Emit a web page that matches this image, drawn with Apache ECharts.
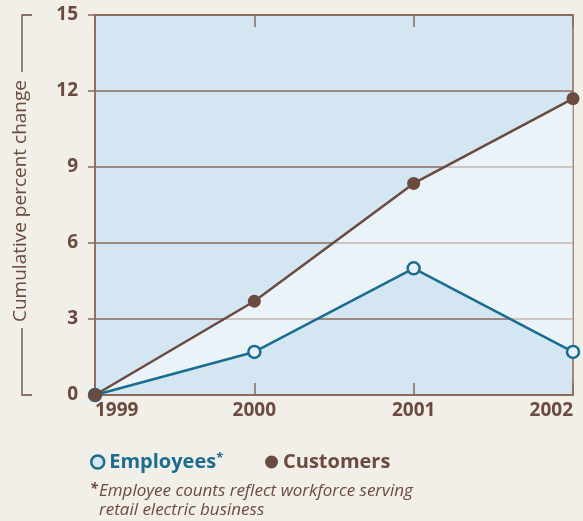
<!DOCTYPE html>
<html>
<head>
<meta charset="utf-8">
<script src="https://cdn.jsdelivr.net/npm/echarts@6/dist/echarts.min.js"></script>
<style>
html,body{margin:0;padding:0;background:#f2eee8;}
#c{width:583px;height:521px;}
</style>
</head>
<body>
<div id="c"></div>
<script>
const years = ['1999', '2000', '2001', '2002'];
const employees = [0, 1.7, 5.0, 1.7];
const customers = [0, 3.7, 8.35, 11.7];
const yTicks = [0, 3, 6, 9, 12, 15];

const brown = '#6b4a3f';
const teal = '#1a6d91';
const FF = '"Open Sans", Roboto, sans-serif';
const gap = customers.map((v, i) => +(v - employees[i]).toFixed(3));

const chart = echarts.init(document.getElementById('c'));
chart.setOption({
  backgroundColor: '#f2eee8',
  animation: false,
  grid: {
    left: 95, right: 10, top: 15, bottom: 126,
    show: true, backgroundColor: '#d4e6f1', borderColor: '#8b6a5b', borderWidth: 1.5
  },
  xAxis: [{
    type: 'category', data: years, boundaryGap: false, position: 'bottom',
    axisLine: { lineStyle: { color: '#8b6a5b', width: 1.5 } },
    axisTick: { inside: true, length: 12, lineStyle: { color: '#8b6a5b', width: 1.5 } },
    axisLabel: {
      color: brown, fontSize: 19, fontWeight: 'bold', fontFamily: FF,
      margin: 6, alignMinLabel: 'left', alignMaxLabel: 'right'
    }
  }, {
    type: 'category', data: years, boundaryGap: false, position: 'top',
    axisLine: { lineStyle: { color: '#8b6a5b', width: 1.5 } },
    axisTick: { inside: true, length: 12, lineStyle: { color: '#8b6a5b', width: 1.5 } },
    axisLabel: { show: false }
  }],
  yAxis: {
    type: 'value', min: yTicks[0], max: yTicks[yTicks.length - 1], interval: 3,
    axisLine: { show: true, lineStyle: { color: '#8b6a5b', width: 1.5 } },
    axisTick: { show: true, length: 7, lineStyle: { color: '#8b6a5b', width: 1.5 } },
    splitLine: { lineStyle: { color: '#8b6a5b', width: 1.5 } },
    axisLabel: { color: brown, fontSize: 19, fontWeight: 'bold', fontFamily: FF, margin: 17 }
  },
  legend: [{
    left: 85, top: 447, itemWidth: 13, itemHeight: 13, itemGap: 5,
    textStyle: { fontSize: 20, fontWeight: 'bold', fontFamily: FF, color: teal,
      rich: { s: { fontSize: 13, fontFamily: FF, color: teal, verticalAlign: 'top', padding: [0, 0, 7, 0] } } },
    data: [{ name: 'Employees', icon: 'circle',
      itemStyle: { color: '#d4e6f1', borderColor: teal, borderWidth: 2.5 } }],
    formatter: function (n) { return n + '{s|*}'; }
  }, {
    left: 260, top: 447, itemWidth: 13, itemHeight: 13,
    textStyle: { fontSize: 20, fontWeight: 'bold', fontFamily: FF, color: brown },
    data: [{ name: 'Customers', icon: 'circle', itemStyle: { color: brown } }]
  }],
  graphic: [
    { type: 'text', x: 21, y: 201, rotation: Math.PI / 2,
      style: { text: 'Cumulative percent change', fill: brown, font: '19px ' + FF, align: 'center', verticalAlign: 'middle' } },
    { type: 'polyline', shape: { points: [[32, 15], [22, 15], [22, 72]] }, style: { stroke: brown, lineWidth: 1.3, fill: null } },
    { type: 'polyline', shape: { points: [[22, 328], [22, 395], [32, 395]] }, style: { stroke: brown, lineWidth: 1.3, fill: null } },
    { type: 'text', x: 90, y: 482,
      style: { text: '*', fill: brown, font: 'italic bold 14px ' + FF } },
    { type: 'text', x: 99, y: 482,
      style: { text: 'Employee counts reflect workforce serving\nretail electric business', fill: brown, font: 'italic 17px ' + FF, lineHeight: 19 } }
  ],
  series: [
    { name: 'base', type: 'line', stack: 'band', data: employees, symbol: 'none',
      lineStyle: { opacity: 0 }, silent: true, z: 1 },
    { name: 'band', type: 'line', stack: 'band', data: gap, symbol: 'none',
      lineStyle: { opacity: 0 }, areaStyle: { color: 'rgba(255,255,255,0.5)', opacity: 1 }, silent: true, z: 1 },
    { name: 'Employees', type: 'line', data: employees, symbol: 'circle', symbolSize: 12,
      lineStyle: { color: teal, width: 2.5 },
      itemStyle: { color: '#e8f1f7', borderColor: teal, borderWidth: 2.5 }, z: 3 },
    { name: 'Customers', type: 'line', data: customers, symbol: 'circle', symbolSize: 13,
      lineStyle: { color: brown, width: 2.5 },
      itemStyle: { color: brown }, z: 4 }
  ]
});
</script>
</body>
</html>
